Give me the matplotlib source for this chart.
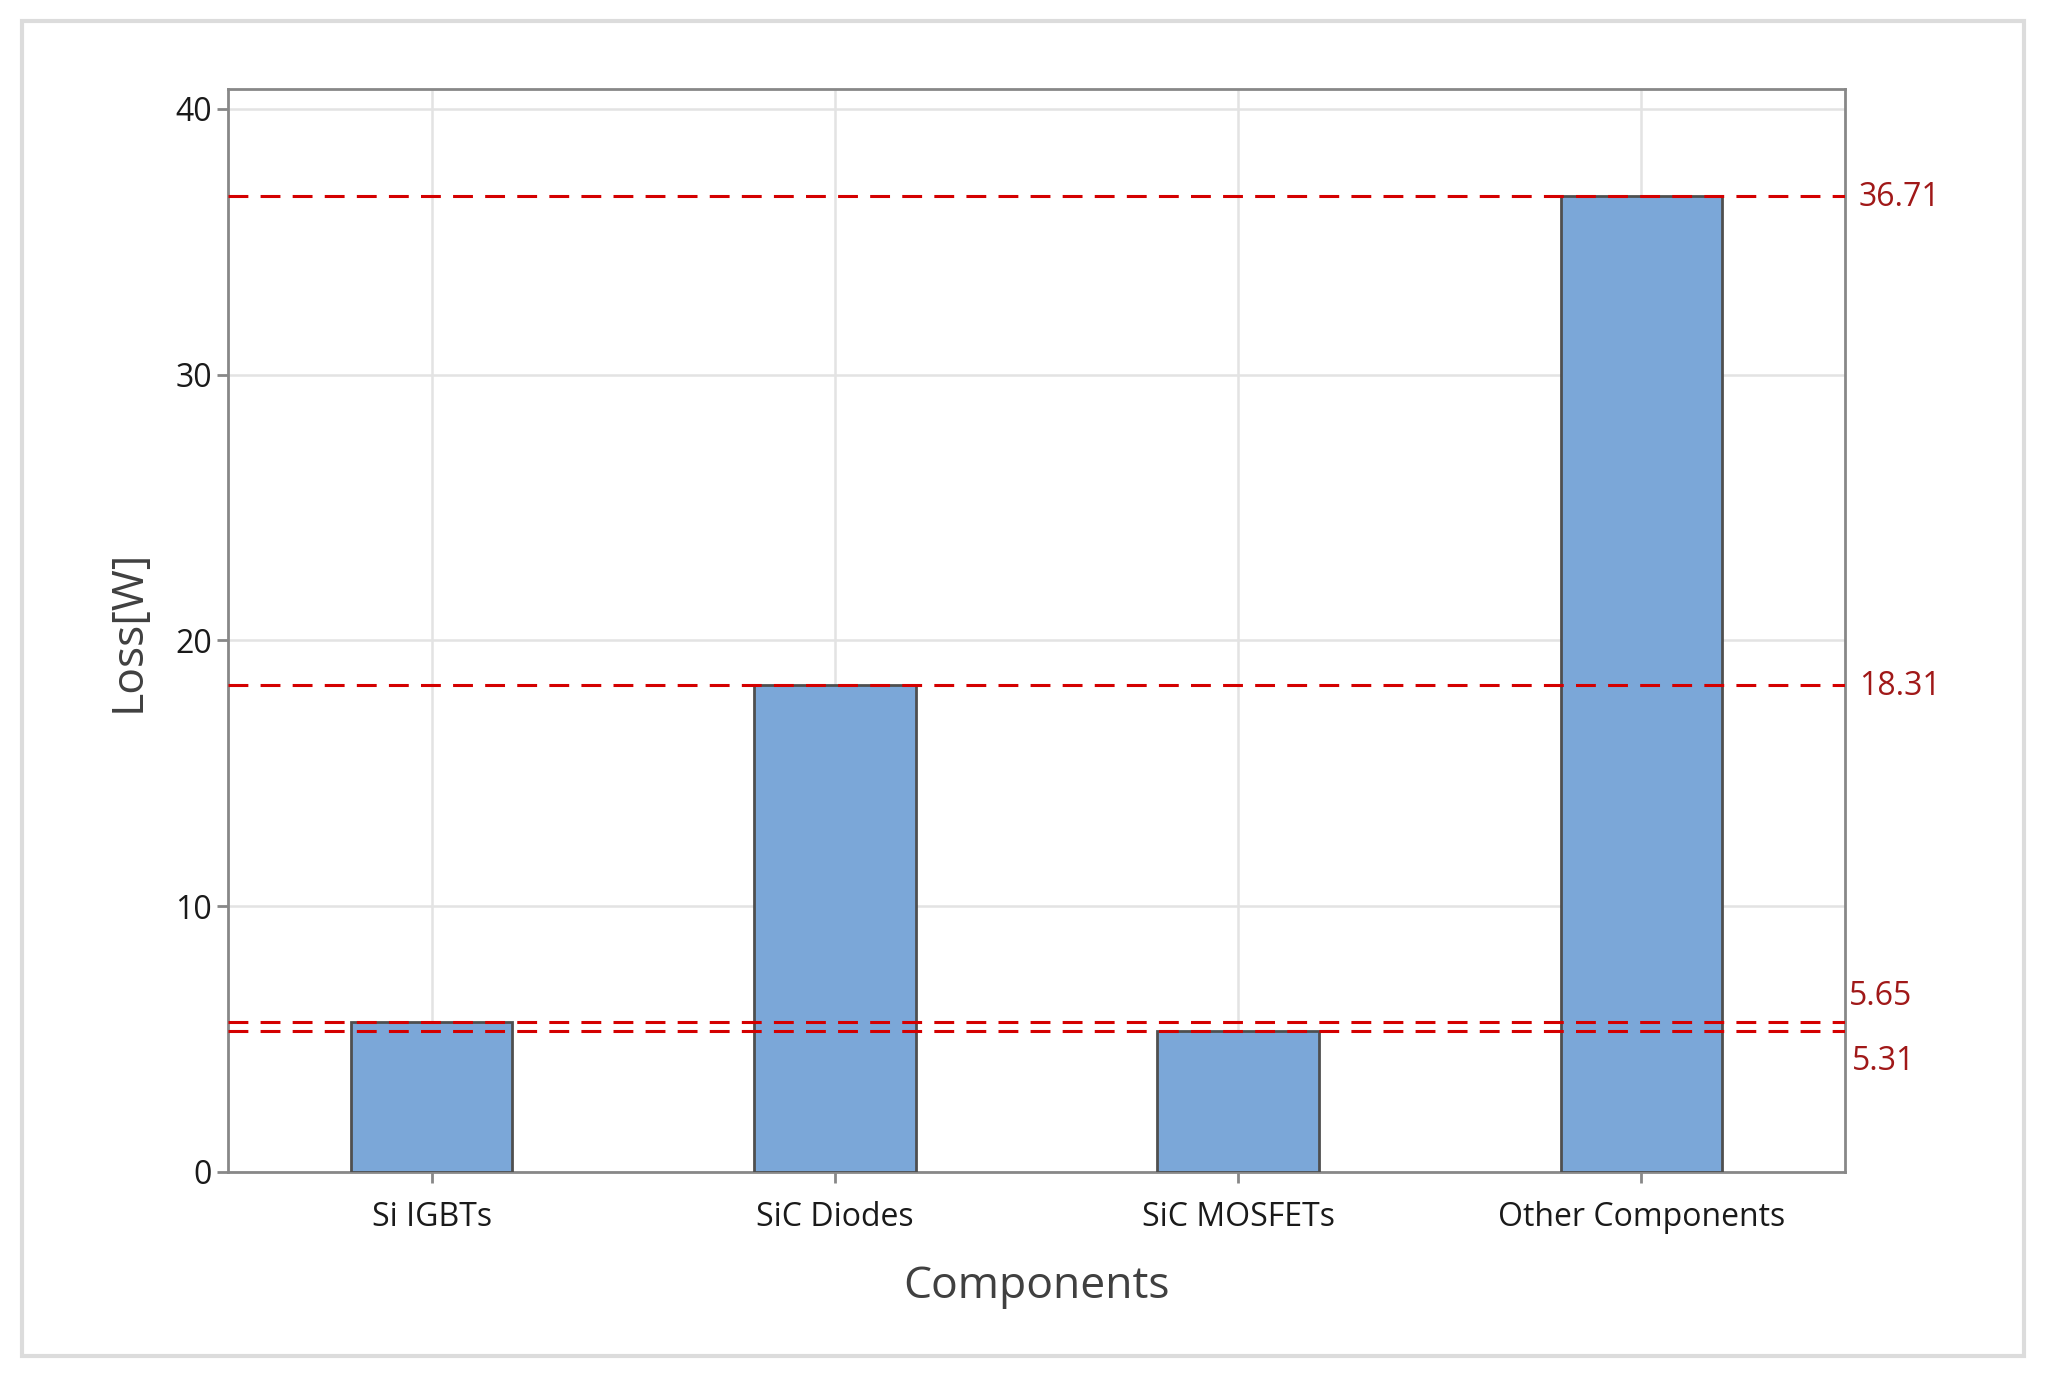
import matplotlib
matplotlib.use("Agg")
import matplotlib.pyplot as plt
from matplotlib.patches import Rectangle

components = ["Si IGBTs", "SiC Diodes", "SiC MOSFETs", "Other Components"]
losses = [5.65, 18.31, 5.31, 36.71]
yticks = [0, 10, 20, 30, 40]

plt.rcParams["font.family"] = ["Open Sans", "DejaVu Sans"]

fig = plt.figure(figsize=(20.45, 13.83), dpi=100)
# light grey frame around the whole chart
fig.patches.append(Rectangle((0.0108, 0.0195), 0.979, 0.965, transform=fig.transFigure,
                             fill=False, edgecolor="#dcdcdc", linewidth=3))

ax = fig.add_axes([0.1115, 0.1526, 0.7907, 0.783])
x = range(len(components))
ax.bar(x, losses, width=0.4, color="#7ba7d8", edgecolor="#4f4f4f", linewidth=2, zorder=3)

ax.set_xlim(-0.505, 3.505)
ax.set_ylim(0, 40.74)
ax.set_xticks(list(x))
ax.set_xticklabels(components)
ax.set_yticks(yticks)
ax.grid(True, color="#e3e3e3", linewidth=1.8, zorder=0)
ax.set_axisbelow(True)

for s in ax.spines.values():
    s.set_color("#888888")
    s.set_linewidth(2)
ax.tick_params(axis="both", colors="#888888", width=2, length=8, labelsize=23,
               labelcolor="#1a1a1a")
ax.tick_params(axis="x", pad=13)

ax.set_xlabel("Components", fontsize=32, color="#404040", labelpad=22)
ax.set_ylabel("Loss[W]", fontsize=32, color="#404040", labelpad=18)

# reference lines at each bar height, labelled on the right
offsets = {5.65: (3, 6), 5.31: (5, -10)}
for v in losses:
    ax.axhline(v, color="#d40000", linestyle=(0, (6.5, 4)), linewidth=2.2, zorder=4)
    dx, dy = offsets.get(v, (10, -1))
    va = "center"
    if dy > 0:
        va = "bottom"
    elif dy < -2:
        va = "top"
    ax.annotate(f"{v:.2f}", xy=(1, v), xycoords=("axes fraction", "data"),
                xytext=(dx, dy), textcoords="offset points", va=va, ha="left",
                fontsize=23, color="#a01818", annotation_clip=False)

fig.savefig("out.png", dpi=100)
